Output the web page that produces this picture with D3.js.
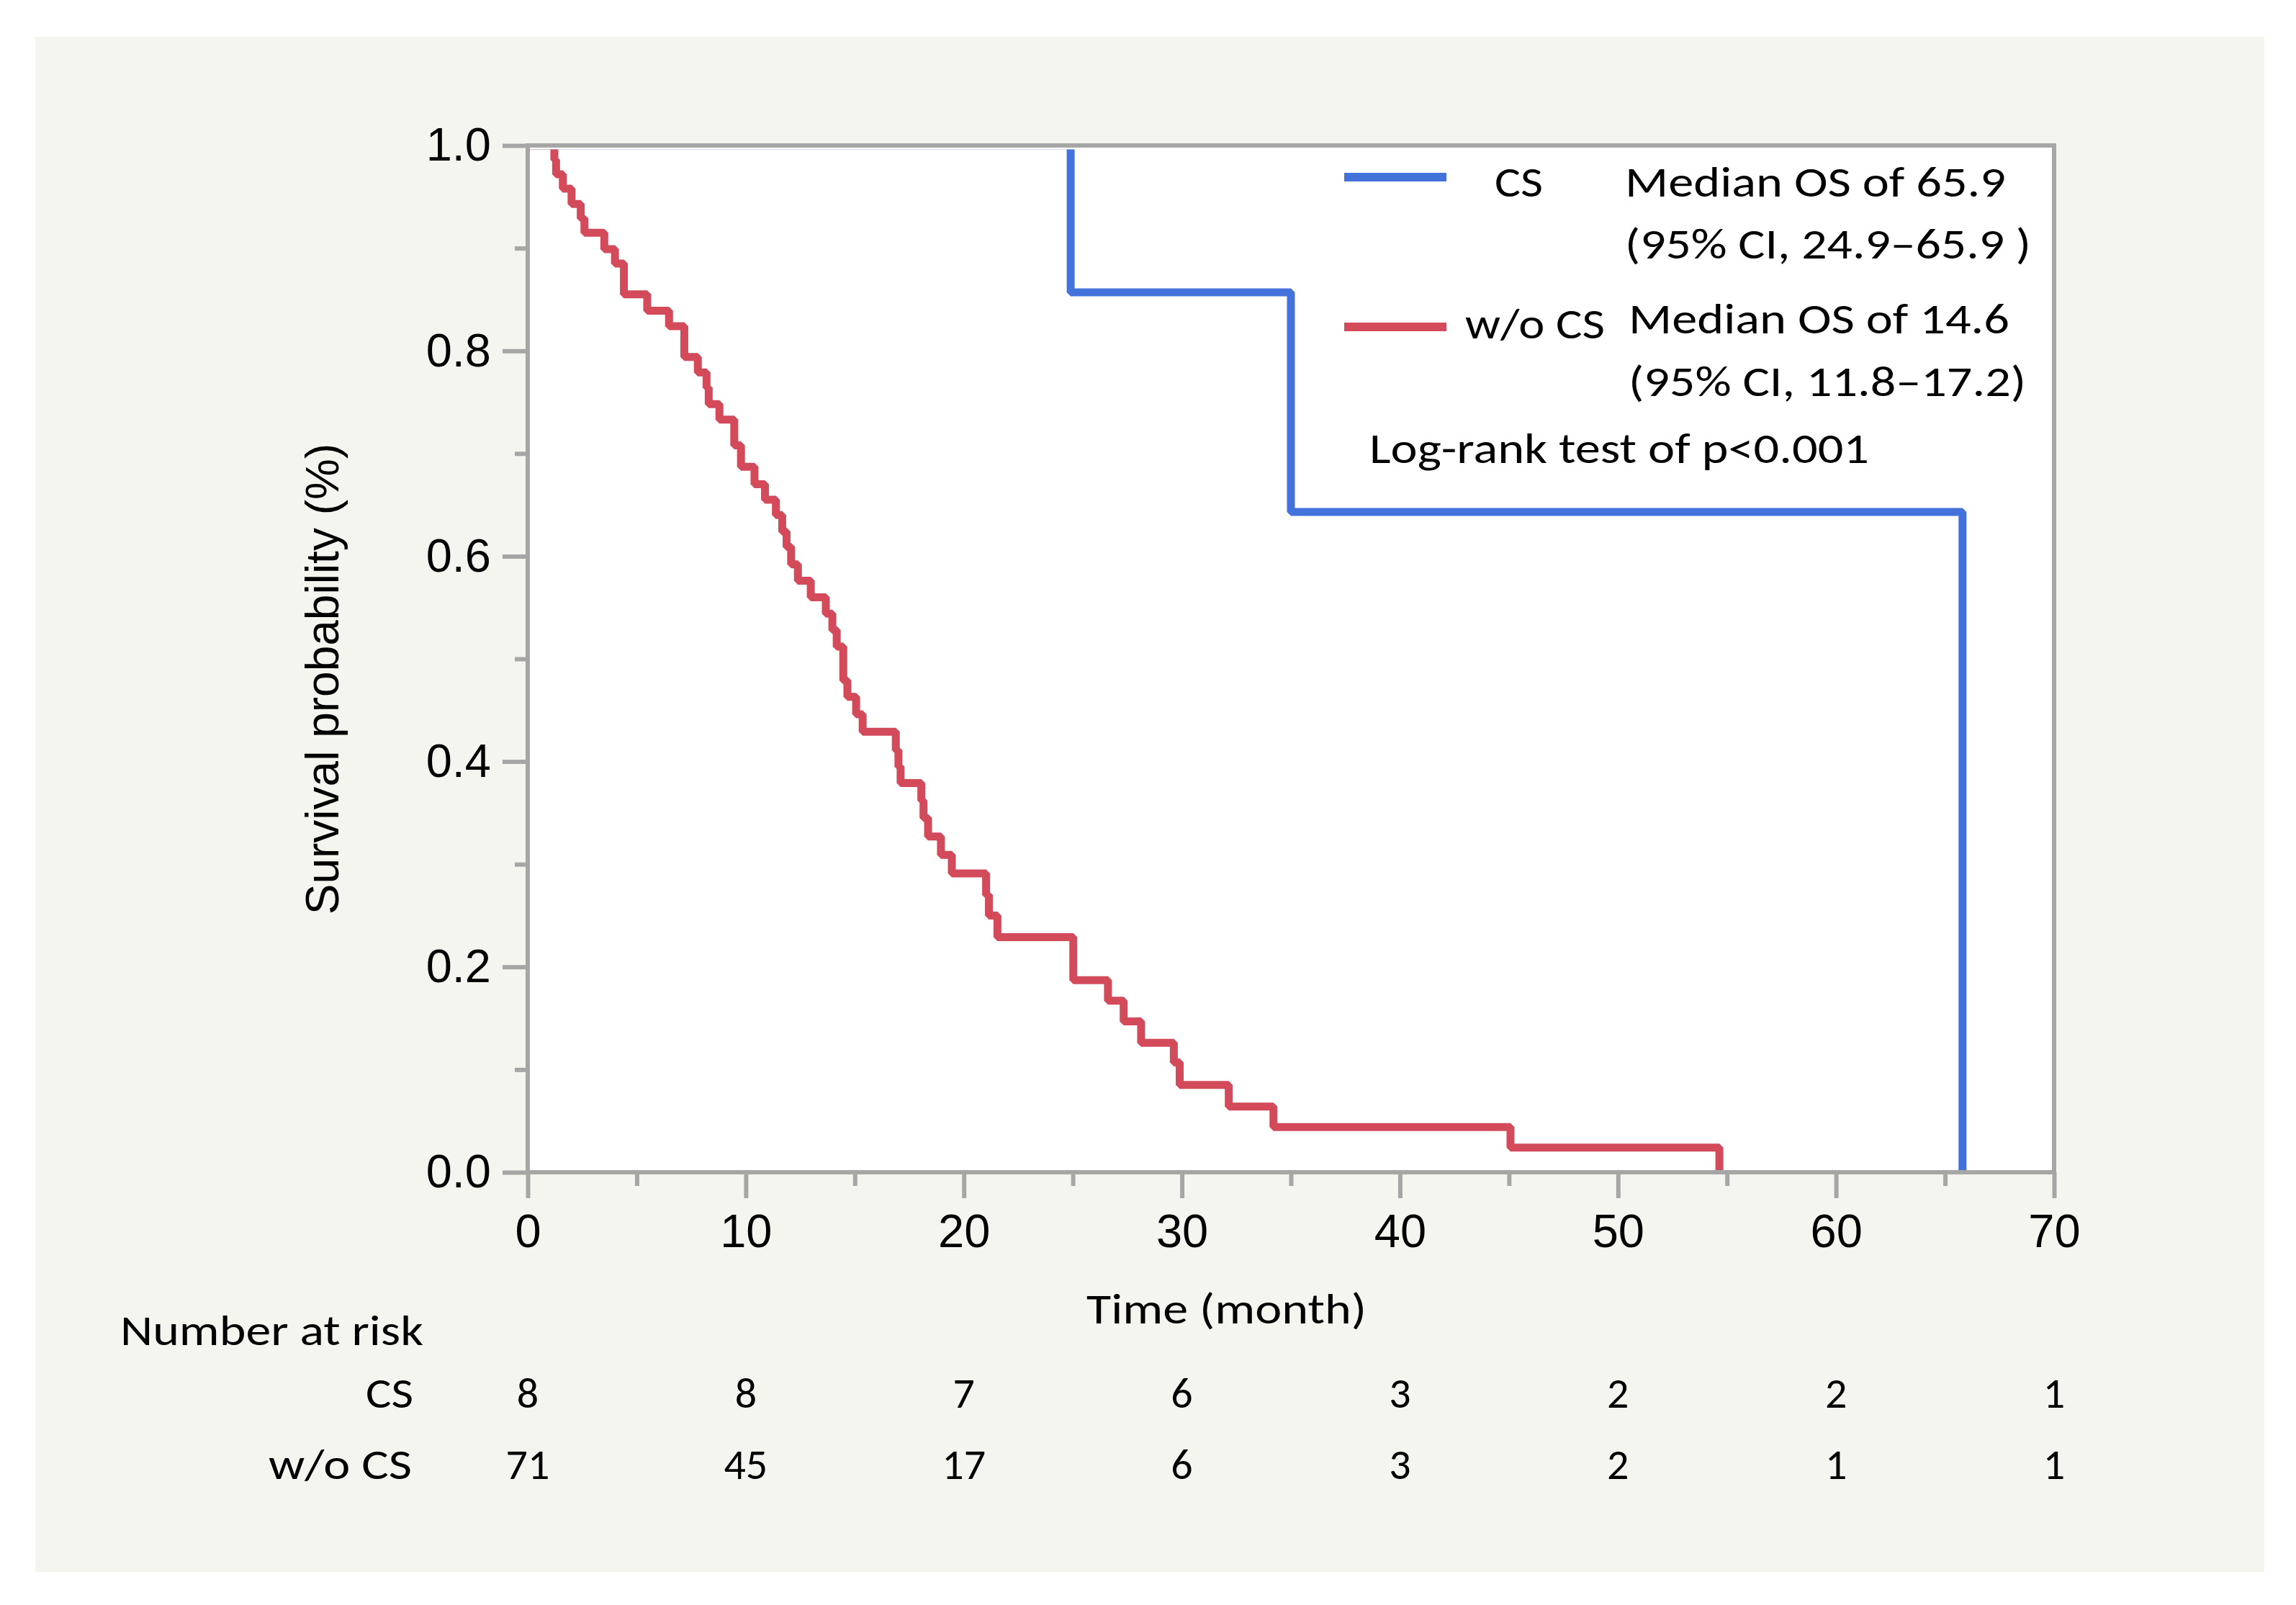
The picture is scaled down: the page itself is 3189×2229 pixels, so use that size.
<!DOCTYPE html>
<html><head><meta charset="utf-8">
<script src="https://cdn.jsdelivr.net/npm/d3@7"></script>
<style>body{margin:0;background:#fff}</style>
</head><body>
<svg id="c" width="3189" height="2229"></svg>
<script>
// ---------------- data ----------------
const xMajorTicks = [0, 10, 20, 30, 40, 50, 60, 70];
const xMinorTicks = [5, 15, 25, 35, 45, 55, 65];
const yMajorTicks = [0, 0.2, 0.4, 0.6, 0.8, 1.0];
const yMinorTicks = [0.1, 0.3, 0.5, 0.7, 0.9];
const seriesNames = ["CS", "w/o CS"];
const csTimes = [0, 24.9, 35.0, 65.8];
const csSurv  = [1, 0.857, 0.643, 0];
const woTimes = [0, 1.22, 1.30, 1.61, 2.01, 2.43, 2.60, 3.51, 4.00, 4.41, 5.48, 6.48, 7.18, 7.80, 8.20, 8.30, 8.79, 9.47, 9.78,
  10.40, 10.88, 11.38, 11.67, 11.87, 12.08, 12.39, 12.98, 13.67, 13.97, 14.17, 14.47, 14.66, 15.06, 15.36,
  16.88, 17.00, 17.10, 18.05, 18.15, 18.36, 18.95, 19.45, 21.02, 21.15, 21.54, 25.02, 26.61, 27.33, 28.13,
  29.63, 29.90, 32.15, 34.20, 45.07, 54.65];
const woSurv  = [1, 0.986, 0.972, 0.958, 0.943, 0.929, 0.915, 0.899, 0.885, 0.855, 0.839, 0.824, 0.794, 0.779, 0.764, 0.748, 0.733, 0.708, 0.687,
  0.670, 0.655, 0.640, 0.624, 0.609, 0.592, 0.576, 0.560, 0.544, 0.528, 0.512, 0.479, 0.463, 0.446, 0.429,
  0.411, 0.395, 0.379, 0.362, 0.345, 0.327, 0.309, 0.291, 0.270, 0.250, 0.229, 0.187, 0.167, 0.147, 0.126,
  0.107, 0.085, 0.064, 0.044, 0.024, 0];
const riskTimes = [0, 10, 20, 30, 40, 50, 60, 70];
const csRisk = [8, 8, 7, 6, 3, 2, 2, 1];
const woRisk = [71, 45, 17, 6, 3, 2, 1, 1];
const legendNotes = [["Median OS of 65.9", "(95% CI, 24.9\u201365.9 )"], ["Median OS of 14.6", "(95% CI, 11.8\u201317.2)"]];
const testNote = "Log-rank test of p<0.001";
const xTitle = "Time (month)";
const yTitle = "Survival probability (%)";
const riskTitle = "Number at risk";

// ---------------- layout ----------------
const svg = d3.select("#c");
const L = 733, R = 2853, T = 202, B = 1628;
const x = d3.scaleLinear().domain([0, 70]).range([L, R]);
const y = d3.scaleLinear().domain([0, 1]).range([B, T]);
const gray = "#a6a6a6";
const colors = ["#4472db", "#d34a5b"];
const sans = "'Liberation Sans', Arial, Helvetica, sans-serif";
const cal = "Carlito, Calibri, Lato, 'Open Sans', sans-serif";

// panel background
svg.append("rect").attr("x", 49).attr("y", 51).attr("width", 3096).attr("height", 2132).attr("fill", "#f5f5f0");
// plot area
svg.append("rect").attr("x", L).attr("y", T).attr("width", R - L).attr("height", B - T).attr("fill", "#fff");

// clip
svg.append("defs").append("clipPath").attr("id", "clip")
  .append("rect").attr("x", L).attr("y", T + 5.5).attr("width", R - L).attr("height", B - T - 5.5);

const line = d3.line().x(d => x(d[0])).y(d => y(d[1])).curve(d3.curveStepAfter);
const series = [d3.zip(csTimes, csSurv), d3.zip(woTimes, woSurv)];
const gCurves = svg.append("g").attr("clip-path", "url(#clip)");
series.forEach((s, i) => {
  gCurves.append("path").datum(s).attr("d", line)
    .attr("fill", "none").attr("stroke", colors[i]).attr("stroke-width", 11)
    .attr("stroke-linejoin", "bevel");
});

// axes
function styleAxis(g) {
  g.select(".domain").remove();
  g.selectAll(".tick line").attr("stroke", gray).attr("stroke-width", 6);
  g.selectAll(".tick text").attr("fill", "#000").style("font-family", sans).style("font-size", "65px");
}
svg.append("g").attr("transform", `translate(${L},0)`)
  .call(d3.axisLeft(y).tickValues(yMinorTicks).tickSize(18).tickFormat(""))
  .call(styleAxis);
svg.append("g").attr("transform", `translate(${L},0)`)
  .call(d3.axisLeft(y).tickValues(yMajorTicks).tickSize(35).tickPadding(16).tickFormat(d3.format(".1f")))
  .call(styleAxis);
svg.append("g").attr("transform", `translate(0,${B})`)
  .call(d3.axisBottom(x).tickValues(xMinorTicks).tickSize(19).tickFormat(""))
  .call(styleAxis);
svg.append("g").attr("transform", `translate(0,${B})`)
  .call(d3.axisBottom(x).tickValues(xMajorTicks).tickSize(36).tickPadding(22).tickFormat(d3.format("d")))
  .call(styleAxis);

// frame
svg.append("rect").attr("x", L).attr("y", T).attr("width", R - L).attr("height", B - T)
  .attr("fill", "none").attr("stroke", gray).attr("stroke-width", 6);

// text helper
function txt(str, xx, yy, opts = {}) {
  const t = svg.append("text").attr("x", xx).attr("y", yy).text(str)
    .style("font-family", opts.font || cal).style("font-size", (opts.size || 60) + "px")
    .attr("fill", "#000").attr("text-anchor", opts.anchor || "start");
  if (opts.w) t.attr("textLength", opts.w).attr("lengthAdjust", "spacingAndGlyphs");
  return t;
}

// axis titles
txt(xTitle, 1509, 1838, { w: 389 });
svg.append("text").attr("transform", `translate(470,943) rotate(-90)`)
  .attr("text-anchor", "middle").style("font-family", sans).style("font-size", "64px").attr("fill", "#000")
  .text(yTitle);

// legend
const legY = [246, 454];
legY.forEach((ly, i) => {
  svg.append("line").attr("x1", 1867).attr("x2", 2009).attr("y1", ly).attr("y2", ly)
    .attr("stroke", colors[i]).attr("stroke-width", 12);
});
txt(seriesNames[0], 2076, 273, { w: 67 });
txt(legendNotes[0][0], 2257, 273, { w: 529 });
txt(legendNotes[0][1], 2257, 359, { w: 564 });
txt(seriesNames[1], 2035, 470, { w: 194 });
txt(legendNotes[1][0], 2262, 463, { w: 529 });
txt(legendNotes[1][1], 2262, 550, { w: 552 });
txt(testNote, 1902, 643, { w: 694 });

// number at risk
txt(riskTitle, 167, 1868, { w: 421 });
txt(seriesNames[0], 574, 1955, { anchor: "end", w: 66 });
txt(seriesNames[1], 572, 2054, { anchor: "end", w: 199 });
riskTimes.forEach((t, i) => {
  txt(String(csRisk[i]), x(t), 1955, { anchor: "middle" });
  txt(String(woRisk[i]), x(t), 2054, { anchor: "middle" });
});
</script>
</body></html>
